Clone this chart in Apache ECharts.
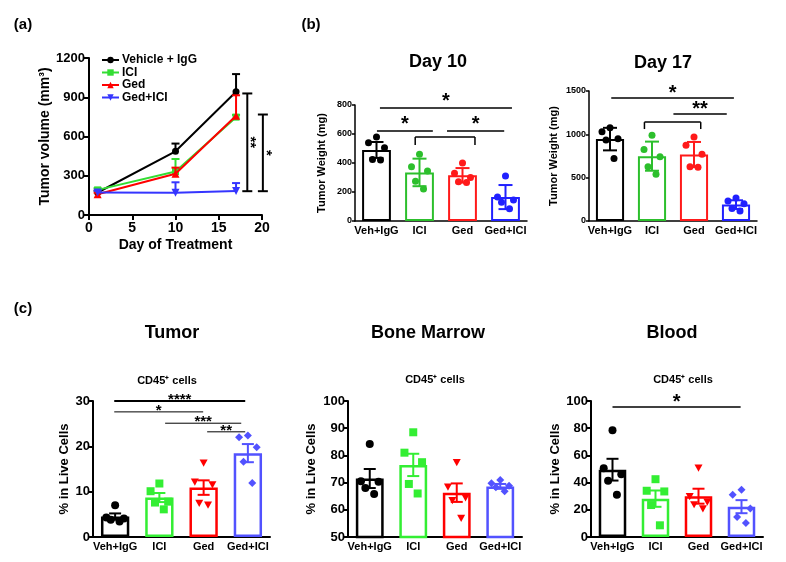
<!DOCTYPE html>
<html><head><meta charset="utf-8">
<script src="https://cdn.jsdelivr.net/npm/echarts@6/dist/echarts.min.js"></script>
<style>html,body{margin:0;padding:0;background:#fff}#c{width:786px;height:562px}</style>
</head><body><div id="c"></div>
<script>
const FONT = '"Liberation Sans", Arial, Helvetica, sans-serif';

// ---------- Panel (a): tumor volume over time ----------
const DAYS = [1, 10, 17];
const VOL_NAMES = ['Vehicle + IgG', 'ICI', 'Ged', 'Ged+ICI'];
const VOL_VEH = [172, 487, 942];
const VOL_VEH_UP = [186, 546, 1077];
const VOL_ICI = [192, 332, 748];
const VOL_ICI_UP = [206, 428, 765];
const VOL_GED = [158, 315, 758];
const VOL_GED_UP = [170, 362, 915];
const VOL_COMBO = [172, 170, 183];
const VOL_COMBO_UP = [186, 250, 244];
const SIG_A_X = [18.3, 20.1];
const SIG_A_LOW = [182, 182];
const SIG_A_HIGH = [929, 768];
const SIG_A_LABEL = ['**', '*'];

// ---------- Panel (b): tumor weight ----------
const CATS = ['Veh+IgG', 'ICI', 'Ged', 'Ged+ICI'];
const D10_MEAN = [490, 335, 315, 165];
const D10_SD = [55, 95, 50, 83];
const D10_VEH = [580, 540, 505, 425, 420];
const D10_ICI = [460, 375, 345, 275, 220];
const D10_GED = [400, 330, 300, 270, 265];
const D10_COMBO = [310, 165, 145, 130, 85];
const D17_MEAN = [945, 748, 767, 189];
const D17_SD = [130, 168, 145, 50];
const D17_VEH = [1075, 1030, 950, 935, 720];
const D17_ICI = [990, 825, 740, 625, 540];
const D17_GED = [970, 875, 770, 625, 620];
const D17_COMBO = [265, 230, 200, 145, 115];

// significance: [fromCat, toCat, y, dropTo(or same), label]
const SIG_D10 = [[0.08, 3.15, 779, 779, '*'], [0.01, 1.31, 620, 620, '*'], [1.64, 2.97, 620, 620, '*'], [0.9, 2.29, 579, 524, '']];
const SIG_D17 = [[0.03, 2.95, 1419, 1419, '*'], [1.51, 2.78, 1234, 1234, '**'], [0.82, 2.16, 1141, 1061, '']];

// ---------- Panel (c): CD45+ cells ----------
const TUM_MEAN = [4.5, 8.7, 10.9, 18.5];
const TUM_SEM = [0.7, 1.0, 1.6, 2.0];
const TUM_VEH = [7.0, 4.3, 4.1, 3.8, 3.4];
const TUM_ICI = [11.8, 10.1, 7.8, 7.6, 6.1];
const TUM_GED = [16.4, 12.2, 11.6, 7.5, 7.1];
const TUM_COMBO = [22.4, 22.0, 19.8, 16.6, 11.9];
const SIG_TUM = [[-0.02, 2.94, 30, 30, '****'], [-0.02, 1.99, 27.6, 27.6, '*'], [1.13, 2.85, 25.1, 25.1, '***'], [2.08, 2.94, 23.2, 23.2, '**']];

const BM_MEAN = [71.5, 76.5, 66.3, 68.6];
const BM_SEM = [3.5, 4.1, 3.4, 0.9];
const BM_VEH = [84.2, 70.5, 70.3, 68.0, 65.8];
const BM_ICI = [88.5, 81.0, 77.5, 69.5, 66.0];
const BM_GED = [77.5, 68.5, 64.5, 63.5, 57.0];
const BM_COMBO = [71.0, 69.8, 68.8, 68.3, 66.8];

const BL_MEAN = [49.5, 28.2, 30.0, 22.3];
const BL_SEM = [8.0, 6.0, 5.5, 4.8];
const BL_VEH = [78.5, 50.6, 46.2, 41.3, 31.0];
const BL_ICI = [42.5, 34.0, 33.5, 23.5, 8.6];
const BL_GED = [51.0, 30.0, 26.0, 24.0, 21.0];
const BL_COMBO = [34.7, 31.0, 21.0, 14.7, 10.3];
const SIG_BL = [[0, 2.98, 95.6, 95.6, '*']];

// ---------- styles ----------
const COL_A = ['#000000', '#33dd33', '#ff0000', '#3535ff'];
const COL_B = ['#000000', '#2cbf2c', '#ff1a1a', '#2020ff'];
const COL_C = ['#000000', '#33ee33', '#ff0000', '#5252ff'];
const JITTER = [0, -8, 8, -4, 4];
const plain = v => String(v);

const GRIDS = [
  {left: 89, top: 58, width: 173, height: 157},
  {left: 355, top: 105, width: 172, height: 116},
  {left: 589, top: 91, width: 168, height: 130},
  {left: 93, top: 401, width: 177, height: 136},
  {left: 348, top: 401, width: 174, height: 136},
  {left: 591, top: 401, width: 172, height: 136}
];

const xAxes = [];
const yAxes = [];
const series = [];

// Panel a axes
xAxes.push({
  gridIndex: 0, type: 'value', min: 0, max: 20, interval: 5,
  axisLine: {lineStyle: {color: '#000', width: 2}},
  axisTick: {length: 5, lineStyle: {color: '#000', width: 2}},
  axisLabel: {color: '#000', fontSize: 14, fontWeight: 'bold', fontFamily: FONT, margin: 6, formatter: plain},
  splitLine: {show: false},
  name: 'Day of Treatment', nameLocation: 'middle', nameGap: 23,
  nameTextStyle: {color: '#000', fontSize: 14, fontWeight: 'bold', fontFamily: FONT, verticalAlign: 'top'}
});
yAxes.push({
  gridIndex: 0, type: 'value', min: 0, max: 1200, interval: 300,
  axisLine: {show: true, lineStyle: {color: '#000', width: 2}},
  axisTick: {show: true, length: 5, lineStyle: {color: '#000', width: 2}},
  axisLabel: {color: '#000', fontSize: 13, fontWeight: 'bold', fontFamily: FONT, margin: 4, formatter: plain},
  splitLine: {show: false},
  name: 'Tumor volume (mm³)', nameLocation: 'middle', nameGap: 32, nameRotate: 90,
  nameTextStyle: {color: '#000', fontSize: 14, fontWeight: 'bold', fontFamily: FONT}
});

const VOL_SETS = [
  [VOL_VEH, VOL_VEH_UP, 'circle', 7],
  [VOL_ICI, VOL_ICI_UP, 'rect', 7],
  [VOL_GED, VOL_GED_UP, 'triangle', 8],
  [VOL_COMBO, VOL_COMBO_UP, 'path://M0,0L10,0L5,9Z', 8]
];
VOL_SETS.forEach((s, gi) => {
  const col = COL_A[gi];
  series.push({
    name: VOL_NAMES[gi], type: 'line', xAxisIndex: 0, yAxisIndex: 0,
    data: DAYS.map((d, i) => [d, s[0][i]]),
    symbol: s[2], symbolSize: s[3], showSymbol: true,
    lineStyle: {color: col, width: 2}, itemStyle: {color: col},
    z: 3 + gi
  });
  series.push({
    type: 'custom', xAxisIndex: 0, yAxisIndex: 0, z: 3 + gi, silent: true,
    data: DAYS.map((d, i) => [d, s[0][i], s[1][i]]),
    renderItem: (params, api) => {
      const p0 = api.coord([api.value(0), api.value(1)]);
      const p1 = api.coord([api.value(0), api.value(2)]);
      const st = {stroke: col, lineWidth: 2};
      return {type: 'group', children: [
        {type: 'line', shape: {x1: p0[0], y1: p0[1], x2: p1[0], y2: p1[1]}, style: st},
        {type: 'line', shape: {x1: p1[0] - 4, y1: p1[1], x2: p1[0] + 4, y2: p1[1]}, style: st}
      ]};
    }
  });
});
series.push({
  type: 'custom', xAxisIndex: 0, yAxisIndex: 0, silent: true, clip: false, z: 10,
  data: SIG_A_X.map((x, i) => [x, SIG_A_LOW[i], SIG_A_HIGH[i]]),
  renderItem: (params, api) => {
    const lo = api.coord([api.value(0), api.value(1)]);
    const hi = api.coord([api.value(0), api.value(2)]);
    const st = {stroke: '#000', lineWidth: 2};
    const lab = SIG_A_LABEL[params.dataIndex];
    return {type: 'group', children: [
      {type: 'line', shape: {x1: lo[0], y1: lo[1], x2: hi[0], y2: hi[1]}, style: st},
      {type: 'line', shape: {x1: hi[0] - 5, y1: hi[1], x2: hi[0] + 5, y2: hi[1]}, style: st},
      {type: 'line', shape: {x1: lo[0] - 5, y1: lo[1], x2: lo[0] + 5, y2: lo[1]}, style: st},
      {type: 'text', x: lo[0] + 3, y: (lo[1] + hi[1]) / 2, rotation: -Math.PI / 2,
        style: {text: lab, fill: '#000', font: 'bold 15px ' + FONT, align: 'center', verticalAlign: 'middle'}}
    ]};
  }
});

// ---------- bar panels ----------
function shapeEl(kind, cx, cy, r, color) {
  const style = {fill: color};
  if (kind === 'circle') return {type: 'circle', shape: {cx, cy, r}, style};
  if (kind === 'square') return {type: 'rect', shape: {x: cx - r, y: cy - r, width: 2 * r, height: 2 * r}, style};
  if (kind === 'down') return {type: 'polygon', shape: {points: [[cx - r, cy - r * 0.8], [cx + r, cy - r * 0.8], [cx, cy + r]]}, style};
  if (kind === 'diamond') return {type: 'polygon', shape: {points: [[cx, cy - r], [cx + r, cy], [cx, cy + r], [cx - r, cy]]}, style};
  return {type: 'circle', shape: {cx, cy, r}, style};
}

function barPanel(gi, cfg) {
  xAxes.push({
    gridIndex: gi, type: 'category', data: CATS,
    axisLine: {lineStyle: {color: '#000', width: cfg.axisW}},
    axisTick: {show: false},
    axisLabel: {color: '#000', fontSize: 11, fontWeight: 'bold', fontFamily: FONT, interval: 0, margin: cfg.xMargin}
  });
  yAxes.push({
    gridIndex: gi, type: 'value', min: cfg.min, max: cfg.max, interval: cfg.interval,
    axisLine: {show: true, lineStyle: {color: '#000', width: cfg.axisW}},
    axisTick: {show: true, length: cfg.tickLen, lineStyle: {color: '#000', width: cfg.axisW}},
    axisLabel: {color: '#000', fontSize: cfg.yFont, fontWeight: 'bold', fontFamily: FONT, margin: 3, formatter: plain},
    splitLine: {show: false},
    name: cfg.yName, nameLocation: 'middle', nameGap: cfg.nameGap, nameRotate: 90,
    nameTextStyle: {color: '#000', fontSize: cfg.nameFont, fontWeight: 'bold', fontFamily: FONT}
  });
  const cols = cfg.colors;
  series.push({
    type: 'bar', xAxisIndex: gi, yAxisIndex: gi, barWidth: cfg.barW, silent: true, z: 2,
    data: cfg.mean.map((v, i) => ({value: v, itemStyle: {color: '#ffffff', borderColor: cols[i], borderWidth: cfg.bw}}))
  });
  // dots
  const dots = [];
  cfg.groups.forEach((g, ci) => g.forEach((v, k) => dots.push([ci, v, k])));
  series.push({
    type: 'custom', xAxisIndex: gi, yAxisIndex: gi, silent: true, z: 4,
    data: dots,
    renderItem: (params, api) => {
      const ci = api.value(0);
      const p = api.coord([ci, api.value(1)]);
      return shapeEl(cfg.shapes[ci], p[0] + JITTER[api.value(2)] * cfg.jit, p[1], cfg.r, cols[ci]);
    }
  });
  // error bars
  series.push({
    type: 'custom', xAxisIndex: gi, yAxisIndex: gi, silent: true, z: 5,
    data: cfg.mean.map((v, i) => [i, v - cfg.err[i], v + cfg.err[i]]),
    renderItem: (params, api) => {
      const i = api.value(0);
      const lo = api.coord([i, api.value(1)]);
      const hi = api.coord([i, api.value(2)]);
      const st = {stroke: cols[i], lineWidth: cfg.ew};
      const h = cfg.cap;
      return {type: 'group', children: [
        {type: 'line', shape: {x1: lo[0], y1: lo[1], x2: hi[0], y2: hi[1]}, style: st},
        {type: 'line', shape: {x1: hi[0] - h, y1: hi[1], x2: hi[0] + h, y2: hi[1]}, style: st},
        {type: 'line', shape: {x1: lo[0] - h, y1: lo[1], x2: lo[0] + h, y2: lo[1]}, style: st}
      ]};
    }
  });
  // significance
  if (cfg.sig) {
    series.push({
      type: 'custom', xAxisIndex: gi, yAxisIndex: gi, silent: true, clip: false, z: 6,
      data: cfg.sig.map(s => [0, s[2], s[3]]),
      renderItem: (params, api) => {
        const s = cfg.sig[params.dataIndex];
        const a = api.coord([0, api.value(1)]);
        const b = api.coord([1, api.value(1)]);
        const step = b[0] - a[0];
        const x1 = a[0] + s[0] * step, x2 = a[0] + s[1] * step, y = a[1];
        const yd = api.coord([0, api.value(2)])[1];
        const lw = (cfg.firstThick && params.dataIndex === 0) ? 2 : cfg.sigW;
        const st = {stroke: '#000', lineWidth: lw};
        const ch = [{type: 'line', shape: {x1, y1: y, x2, y2: y}, style: st}];
        if (yd !== y) {
          ch.push({type: 'line', shape: {x1, y1: y, x2: x1, y2: yd}, style: st});
          ch.push({type: 'line', shape: {x1: x2, y1: y, x2: x2, y2: yd}, style: st});
        }
        if (s[4]) ch.push({type: 'text', style: {text: s[4], x: (x1 + x2) / 2, y: y - cfg.starRaise,
          fill: '#000', font: 'bold ' + cfg.starFont + 'px ' + FONT, align: 'center', verticalAlign: 'middle'}});
        return {type: 'group', children: ch};
      }
    });
  }
}

const CIRC4 = ['circle', 'circle', 'circle', 'circle'];
const SHAPES_C = ['circle', 'square', 'down', 'diamond'];
const B_COMMON = {axisW: 1.5, tickLen: 3, yFont: 9, nameFont: 11, yName: 'Tumor Weight (mg)', barW: '67%', bw: 2,
  colors: COL_B, shapes: CIRC4, r: 3.5, jit: 1, ew: 2, cap: 7, sigW: 1.5, starFont: 20, xMargin: 4};
barPanel(1, Object.assign({}, B_COMMON, {min: 0, max: 800, interval: 200, nameGap: 28,
  mean: D10_MEAN, err: D10_SD, groups: [D10_VEH, D10_ICI, D10_GED, D10_COMBO], sig: SIG_D10, starRaise: 7}));
barPanel(2, Object.assign({}, B_COMMON, {min: 0, max: 1500, interval: 500, nameGap: 30,
  mean: D17_MEAN, err: D17_SD, groups: [D17_VEH, D17_ICI, D17_GED, D17_COMBO], sig: SIG_D17, starRaise: 5}));
const C_COMMON = {axisW: 2, tickLen: 4, yFont: 13, nameFont: 13, yName: '% in Live Cells', barW: '64%', bw: 2.5,
  colors: COL_C, shapes: SHAPES_C, r: 4, jit: 1.1, ew: 2, cap: 6, sigW: 1, xMargin: 4};
barPanel(3, Object.assign({}, C_COMMON, {min: 0, max: 30, interval: 10, nameGap: 22,
  mean: TUM_MEAN, err: TUM_SEM, groups: [TUM_VEH, TUM_ICI, TUM_GED, TUM_COMBO], sig: SIG_TUM, starFont: 15, starRaise: 1, firstThick: true}));
barPanel(4, Object.assign({}, C_COMMON, {min: 50, max: 100, interval: 10, nameGap: 30,
  mean: BM_MEAN, err: BM_SEM, groups: [BM_VEH, BM_ICI, BM_GED, BM_COMBO]}));
barPanel(5, Object.assign({}, C_COMMON, {min: 0, max: 100, interval: 20, nameGap: 29,
  mean: BL_MEAN, err: BL_SEM, groups: [BL_VEH, BL_ICI, BL_GED, BL_COMBO], sig: SIG_BL, sigW: 1.5, starFont: 20, starRaise: 4}));

function txt(text, x, y, size, weight) {
  return {type: 'text', x, y, style: {text, fill: '#000', font: (weight || 'bold') + ' ' + size + 'px ' + FONT, align: 'center', verticalAlign: 'middle'}};
}

const option = {
  animation: false,
  backgroundColor: '#ffffff',
  grid: GRIDS,
  xAxis: xAxes,
  yAxis: yAxes,
  legend: {
    data: VOL_NAMES, left: 96, top: 49, orient: 'vertical', itemWidth: 17, itemHeight: 8, itemGap: 0.5,
    textStyle: {color: '#000', fontSize: 12, fontWeight: 'bold', fontFamily: FONT, lineHeight: 12, padding: [0, 0, 0, -2]}
  },
  graphic: [
    txt('(a)', 23, 25, 15), txt('(b)', 311, 25, 15), txt('(c)', 23, 309, 15),
    txt('Day 10', 438, 62, 18), txt('Day 17', 663, 63, 18),
    txt('Tumor', 172, 333, 18), txt('Bone Marrow', 428, 333, 18), txt('Blood', 672, 333, 18),
    txt('CD45⁺ cells', 167, 381, 11), txt('CD45⁺ cells', 435, 380, 11), txt('CD45⁺ cells', 683, 380, 11)
  ],
  series
};
const chart = echarts.init(document.getElementById('c'));
chart.setOption(option);
</script></body></html>
